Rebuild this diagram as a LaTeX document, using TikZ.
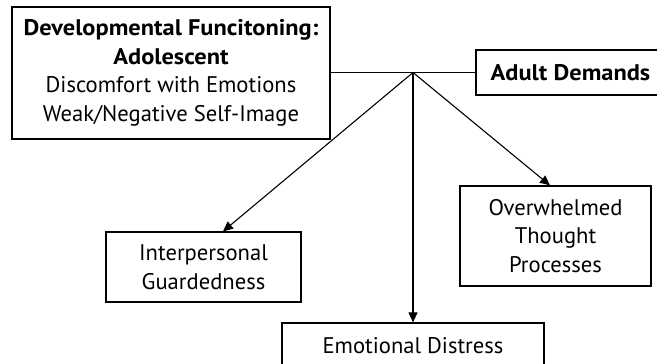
\documentclass[tikz,border=0pt]{standalone}
\usepackage{fontspec}
\setmainfont{PT Sans}[BoldFeatures={FakeStretch=1.08}]
\usetikzlibrary{arrows.meta}
\begin{document}
\begin{tikzpicture}[x=1pt,y=-1pt,
  box/.style={draw, line width=1.2pt, align=center, inner sep=0pt,
    font=\fontsize{22.6}{28.7}\selectfont},
  link/.style={line width=1.1pt},
  arr/.style={link, -{Triangle[length=10pt,width=9pt]}}]
\useasboundingbox (0,0) rectangle (657,364);
\begin{scope}
\clip (0,0) rectangle (657,364);
\node[box, minimum width=318pt, minimum height=132pt] (dev) at (171,73)
  {\textbf{Developmental Funcitoning:}\\\textbf{Adolescent}\\Discomfort with Emotions\\Weak/Negative Self-Image};
\node[box, minimum width=189pt, minimum height=45pt] (adult) at (570.5,72.5)
  {\textbf{Adult Demands}};
\node[box, minimum width=191pt, minimum height=100pt] (over) at (555.5,236)
  {Overwhelmed\\Thought\\Processes};
\node[box, minimum width=195pt, minimum height=70pt] (inter) at (203.5,267)
  {Interpersonal\\Guardedness};
\node[box, minimum width=262pt, minimum height=45pt] (emo) at (413,345.5)
  {Emotional Distress};
\end{scope}
\coordinate (J) at (413,72.5);
\draw[link] (dev.east |- J) -- (adult.west);
\draw[arr] (J) -- ([xshift=19.5pt]inter.north);
\draw[arr] (J) -- ([xshift=-5.5pt]over.north);
\draw[arr] (J) -- (emo.north);
\end{tikzpicture}
\end{document}
